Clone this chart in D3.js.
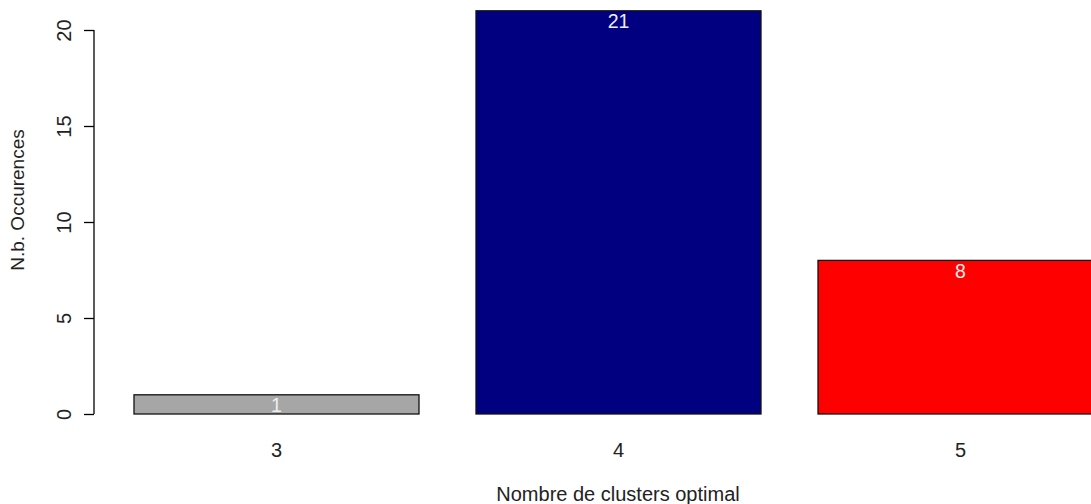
<!DOCTYPE html>
<html>
<head>
<meta charset="utf-8">
<script src="https://cdn.jsdelivr.net/npm/d3@7"></script>
<style>
  html, body { margin: 0; padding: 0; background: #fff; overflow: hidden; }
  svg { display: block; font-family: "Liberation Sans", Arial, sans-serif; }
</style>
</head>
<body>
<svg id="chart" width="1091" height="504"></svg>
<script>
// ---- data ----
const categories = ["3", "4", "5"];
const values = [1, 21, 8];
const barColors = ["#A6A6A6", "#000080", "#FF0000"];
const yTicks = [0, 5, 10, 15, 20];
const xTitle = "Nombre de clusters optimal";
const yTitle = "N.b. Occurences";

// ---- layout ----
const svg = d3.select("#chart");
const fontSize = 19.5;
const textColor = "#222";
const barWidthUnits = 1, spaceUnits = 0.2;

// R barplot units: bar i spans [0.2 + 1.2*i, 1.2 + 1.2*i]
const x = d3.scaleLinear().domain([0, 1]).range([77, 362]);
const y = d3.scaleLinear().domain([0, 20]).range([414, 30]);

const barLeft = i => spaceUnits + i * (barWidthUnits + spaceUnits);

// bars
svg.append("g").selectAll("rect")
  .data(values)
  .join("rect")
  .attr("x", (d, i) => x(barLeft(i)))
  .attr("y", d => y(d))
  .attr("width", x(barWidthUnits) - x(0))
  .attr("height", d => y(0) - y(d))
  .attr("fill", (d, i) => barColors[i])
  .attr("stroke", "#111")
  .attr("stroke-width", 1.3);

// value labels
svg.append("g").selectAll("text")
  .data(values)
  .join("text")
  .attr("x", (d, i) => x(barLeft(i) + barWidthUnits / 2))
  .attr("y", d => y(d) + 17.5)
  .attr("text-anchor", "middle")
  .attr("font-size", fontSize)
  .attr("fill", "#eeeeee")
  .text(d => d);

// y axis
const yAxis = d3.axisLeft(y).tickValues(yTicks).tickSize(10).tickFormat(d3.format("d"));
const gy = svg.append("g").attr("transform", "translate(94,0)").call(yAxis);
gy.select(".domain").attr("stroke", "#000").attr("stroke-width", 1.3)
  .attr("d", `M0,${y(0)}V${y(20)}`);
gy.selectAll(".tick line").attr("stroke", "#000").attr("stroke-width", 1.3);
gy.selectAll(".tick text")
  .attr("font-size", 20)
  .attr("font-family", "Liberation Sans, Arial, sans-serif")
  .attr("fill", textColor)
  .attr("x", null).attr("dy", null)
  .attr("text-anchor", "middle")
  .attr("transform", "translate(-23,0) rotate(-90)")
  .attr("y", 0);

// x category labels
svg.append("g").selectAll("text")
  .data(categories)
  .join("text")
  .attr("x", (d, i) => x(barLeft(i) + barWidthUnits / 2))
  .attr("y", 457)
  .attr("text-anchor", "middle")
  .attr("font-size", 20)
  .attr("fill", textColor)
  .text(d => d);

// titles
svg.append("text")
  .attr("x", 618).attr("y", 501)
  .attr("text-anchor", "middle")
  .attr("font-size", 20)
  .attr("fill", textColor)
  .text(xTitle);

svg.append("text")
  .attr("transform", "translate(24,200) rotate(-90)")
  .attr("text-anchor", "middle")
  .attr("font-size", 19)
  .attr("fill", textColor)
  .text(yTitle);
</script>
</body>
</html>
